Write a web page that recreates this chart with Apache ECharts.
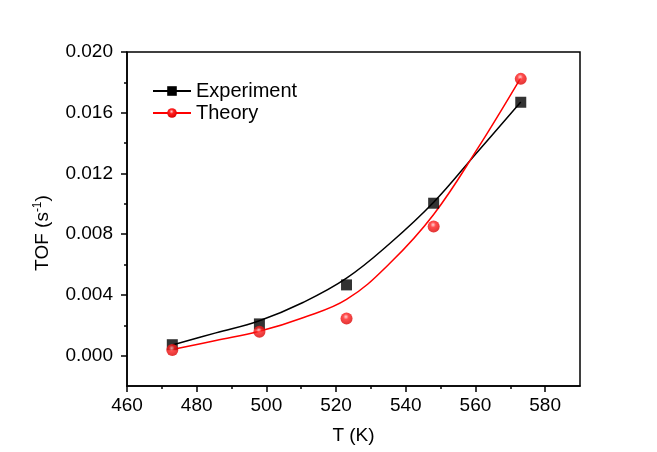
<!DOCTYPE html>
<html>
<head>
<meta charset="utf-8">
<title>TOF vs T</title>
<script src="https://cdn.jsdelivr.net/npm/echarts@6/dist/echarts.min.js"></script>
<style>
    html, body { margin: 0; padding: 0; background: #fff; }
    #main { width: 657px; height: 452px; }
</style>
</head>
<body>
<div id="main"></div>
<script>
'use strict';

// measured points
var temps = [473, 498, 523, 548, 573];
var experiment = [0.00072, 0.00209, 0.00466, 0.01004, 0.01669];
var theory = [0.00037, 0.00158, 0.00244, 0.0085, 0.01823];

// fitted curves (evenly spaced in T)
var fitTemps = [473, 485.5, 498, 510.5, 523, 535.5, 548, 560.5, 573];
var experimentFit = [0.0007, 0.0015, 0.0023, 0.0035, 0.0051, 0.0074, 0.0101, 0.0134, 0.0167];
var theoryFit = [0.0004, 0.0010, 0.0016, 0.0025, 0.0037, 0.0061, 0.0093, 0.0136, 0.0183];

// ticks
var xTicks = [460, 480, 500, 520, 540, 560, 580];
var xMinorTicks = [470, 490, 510, 530, 550, 570];
var yTicks = [0, 0.004, 0.008, 0.012, 0.016, 0.020];
var yMinorTicks = [0.002, 0.006, 0.010, 0.014, 0.018];

var font = "'Liberation Sans', Arial, sans-serif";

function zip(xs, ys) {
    var out = [];
    for (var i = 0; i < xs.length; i++) {
        out.push([xs[i], ys[i]]);
    }
    return out;
}

var ball = {
    type: 'radial', x: 0.45, y: 0.35, r: 0.65,
    colorStops: [
        { offset: 0, color: '#ffc8c8' },
        { offset: 0.35, color: '#ff2020' },
        { offset: 1, color: '#d80000' }
    ]
};

var chart = echarts.init(document.getElementById('main'), null, { renderer: 'canvas' });

var option = {
    backgroundColor: '#fff',
    animation: false,
    textStyle: { fontFamily: font },
    grid: {
        left: 127, right: 77, top: 52, bottom: 66,
        show: true, borderColor: '#000', borderWidth: 1.5
    },
    legend: {
        left: 147, top: 76,
        orient: 'vertical',
        itemWidth: 38, itemHeight: 12, itemGap: 2,
        textStyle: { fontFamily: font, fontSize: 20, color: '#000' },
        data: ['Experiment', 'Theory']
    },
    xAxis: [{
        type: 'value', min: 460, max: 590,
        name: 'T (K)', nameLocation: 'middle', nameGap: 40,
        nameTextStyle: { fontFamily: font, fontSize: 19, color: '#000' },
        axisLine: { onZero: false, lineStyle: { color: '#000', width: 1.5 } },
        axisTick: { inside: false, length: 6, lineStyle: { color: '#000', width: 1.5 }, customValues: xTicks },
        axisLabel: { fontFamily: font, fontSize: 19, color: '#000', margin: 10, customValues: xTicks },
        splitLine: { show: false }
    }, {
        type: 'value', min: 460, max: 590, position: 'bottom', offset: 0,
        axisLine: { show: false, onZero: false },
        axisTick: { inside: false, length: 3, lineStyle: { color: '#000', width: 1.5 }, customValues: xMinorTicks },
        axisLabel: { show: false },
        splitLine: { show: false }
    }],
    yAxis: [{
        type: 'value', min: -0.002, max: 0.020,
        name: 'TOF (s{sup|-1})', nameLocation: 'middle', nameGap: 74, nameRotate: 90,
        nameTextStyle: {
            fontFamily: font, fontSize: 19, color: '#000', padding: [0, 0, 0, -28],
            rich: { sup: { fontFamily: font, fontSize: 12, color: '#000', padding: [0, 0, 9, 0] } }
        },
        axisLine: { onZero: false, lineStyle: { color: '#000', width: 1.5 } },
        axisTick: { inside: false, length: 6, lineStyle: { color: '#000', width: 1.5 }, customValues: yTicks },
        axisLabel: {
            fontFamily: font, fontSize: 19, color: '#000', margin: 14, customValues: yTicks,
            formatter: function(v) { return v.toFixed(3); }
        },
        splitLine: { show: false }
    }, {
        type: 'value', min: -0.002, max: 0.020, position: 'left', offset: 0,
        axisLine: { show: false, onZero: false },
        axisTick: { inside: false, length: 3, lineStyle: { color: '#000', width: 1.5 }, customValues: yMinorTicks },
        axisLabel: { show: false },
        splitLine: { show: false }
    }],
    series: [{
        name: 'Experiment', type: 'line', smooth: 0.4,
        data: zip(fitTemps, experimentFit),
        showSymbol: false, symbol: 'rect', symbolSize: 10,
        itemStyle: { color: '#000' },
        lineStyle: { color: '#000', width: 1.5 }
    }, {
        name: 'Experiment', type: 'scatter',
        data: zip(temps, experiment),
        symbol: 'rect', symbolSize: 11,
        itemStyle: { color: '#000' }, z: 5
    }, {
        name: 'Theory', type: 'line', smooth: 0.4,
        data: zip(fitTemps, theoryFit),
        showSymbol: false, symbol: 'circle', symbolSize: 11,
        itemStyle: { color: ball },
        lineStyle: { color: '#ff0000', width: 1.5 }
    }, {
        name: 'Theory', type: 'scatter',
        data: zip(temps, theory),
        symbol: 'circle', symbolSize: 12,
        itemStyle: { color: ball }, z: 5
    }]
};

chart.setOption(option);
</script>
</body>
</html>
